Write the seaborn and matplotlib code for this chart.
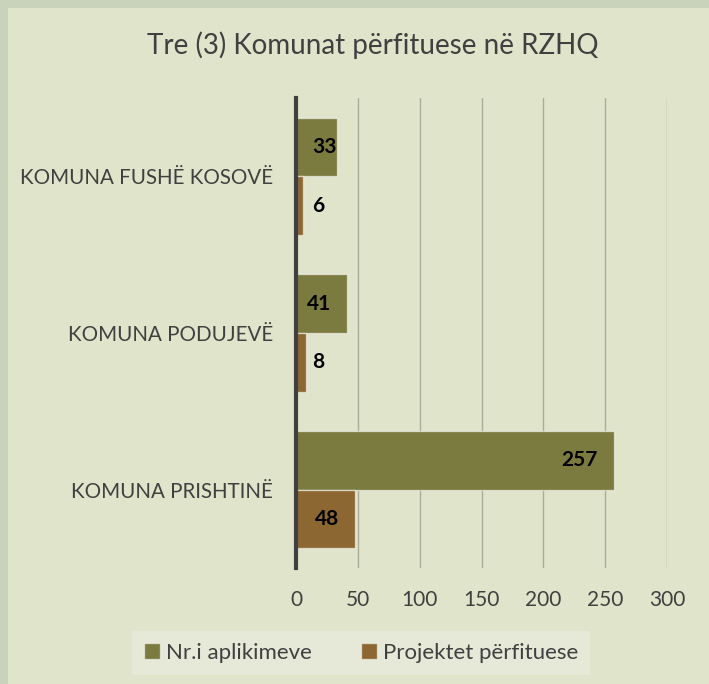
import matplotlib
matplotlib.use("Agg")
import matplotlib.pyplot as plt
import seaborn as sns
import pandas as pd
from matplotlib.patches import Rectangle

categories = ["KOMUNA FUSHË KOSOVË", "KOMUNA PODUJEVË", "KOMUNA PRISHTINË"]
series_names = ["Nr.i aplikimeve", "Projektet përfituese"]
aplikime = [33, 41, 257]
perfitues = [6, 8, 48]
x_ticks = [0, 50, 100, 150, 200, 250, 300]
title = "Tre (3) Komunat përfituese në RZHQ"

colors = ["#7b7b3f", "#8d6731"]
text_col = "#404040"

df = pd.DataFrame({
    "Komuna": categories * 2,
    "Seria": [series_names[0]] * 3 + [series_names[1]] * 3,
    "Vlera": aplikime + perfitues,
})

sns.set_style("white")
plt.rcParams["font.family"] = ["Lato", "DejaVu Sans"]

fig = plt.figure(figsize=(7.09, 6.84), dpi=100)
fig.patch.set_facecolor("#c9d3bc")
# inner panel
fig.add_artist(Rectangle((8 / 709, 0), 1, 1 - 8 / 684, transform=fig.transFigure,
                         facecolor="#dfe4cb", edgecolor="none", zorder=0))

ax = fig.add_axes([296 / 709, 1 - 568 / 684, 371 / 709, 470 / 684])
ax.set_facecolor("none")

sns.barplot(data=df, y="Komuna", x="Vlera", hue="Seria", order=categories,
            hue_order=series_names, palette=colors, orient="h", width=0.75,
            saturation=1, edgecolor=(1, 1, 1, 0.55), linewidth=1.0, ax=ax,
            legend=True, zorder=3)

ax.set_xlim(0, 300)
ax.set_ylim(2.5, -0.5)
ax.set_xticks(x_ticks)
ax.set_xticklabels([str(t) for t in x_ticks])
ax.grid(axis="x", color="#a9ac99", linewidth=1.0, zorder=0)
ax.set_axisbelow(True)
for s in ["top", "right", "bottom"]:
    ax.spines[s].set_visible(False)
ax.spines["left"].set_color("#404040")
ax.spines["left"].set_linewidth(3)
ax.spines["left"].set_zorder(5)
ax.tick_params(axis="both", length=0, colors=text_col, labelsize=15)
ax.tick_params(axis="x", pad=16)
ax.tick_params(axis="y", pad=16.5)
for lbl in ax.get_yticklabels():
    lbl.set_fontsize(14.8)
ax.set_xlabel("")
ax.set_ylabel("")

# data labels
px_per_unit = 371 / 300
for container in ax.containers:
    for bar in container:
        w = bar.get_width()
        yc = bar.get_y() + bar.get_height() / 2
        if w * px_per_unit > 50:
            ax.annotate(f"{int(round(w))}", xy=(w, yc), xytext=(-16, 0),
                        textcoords="offset pixels", ha="right", va="center",
                        fontsize=15, fontweight="bold", color="black", zorder=6)
        else:
            ax.annotate(f"{int(round(w))}", xy=(0, yc), xytext=(16, 0),
                        textcoords="offset pixels", ha="left", va="center",
                        fontsize=15, fontweight="bold", color="black", zorder=6)

fig.text(373 / 709, 1 - 45 / 684, title, ha="center", va="center",
         fontsize=20, color=text_col)

handles, labels = ax.get_legend_handles_labels()
ax.get_legend().remove()
leg = fig.legend(handles, labels, loc="center", bbox_to_anchor=(361 / 709, 1 - 653 / 684),
                 ncol=2, frameon=True, fontsize=16, handlelength=0.75, handleheight=0.75,
                 handletextpad=0.25, columnspacing=2.2, borderpad=0.55,
                 labelcolor=text_col, fancybox=False)
leg.get_frame().set_facecolor("#e6e9d8")
leg.get_frame().set_edgecolor("none")
leg.get_frame().set_alpha(1)

fig.savefig("out.png", dpi=100, facecolor=fig.get_facecolor())
